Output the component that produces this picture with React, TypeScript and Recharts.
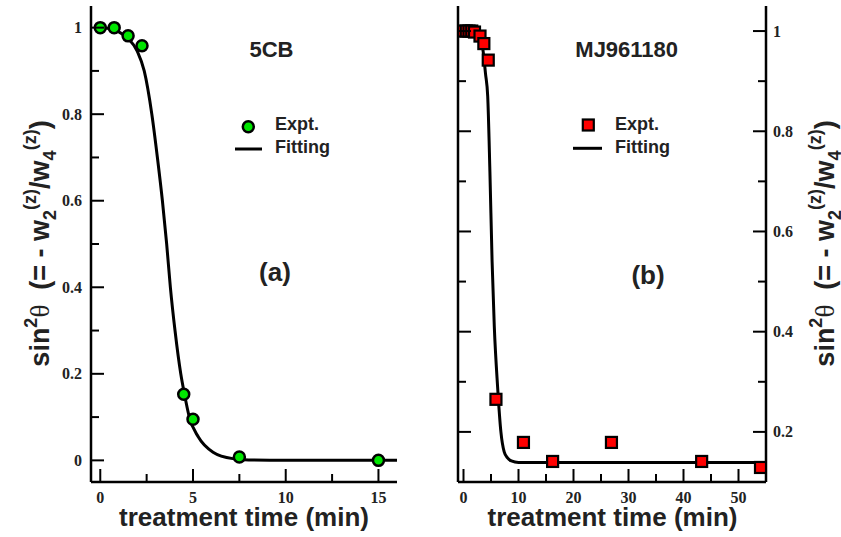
import React from 'react';
import { ComposedChart, Line, Scatter, XAxis, YAxis } from 'recharts';

// ---- Data: panel (a) 5CB ----
const exptA_t = [0, 0.75, 1.5, 2.25, 4.5, 5, 7.5, 15];
const exptA_v = [1.0, 1.0, 0.981, 0.958, 0.153, 0.095, 0.008, 0.0];
const fitA_t = [0, 0.5, 1, 1.5, 2, 2.37, 2.78, 3.08, 3.35, 3.58, 3.78, 4.03, 4.34, 4.53, 4.8, 5.29, 6.08, 7.15, 8, 10, 16];
const fitA_v = [1.0, 0.998, 0.99, 0.975, 0.945, 0.9, 0.8, 0.7, 0.6, 0.5, 0.4, 0.3, 0.2, 0.155, 0.1, 0.054, 0.019, 0.004, 0.001, 0, 0];

// ---- Data: panel (b) MJ961180 ----
const exptB_t = [0, 0.5, 1, 1.5, 2, 3, 3.7, 4.5, 5.9, 10.9, 16.2, 26.9, 43.3, 54];
const exptB_v = [1.0, 1.0, 1.0, 1.0, 0.998, 0.99, 0.975, 0.942, 0.265, 0.179, 0.141, 0.179, 0.141, 0.129];
const fitB_t = [0, 1, 2, 3, 3.5, 4, 4.4, 4.8, 5.2, 5.6, 6.2, 6.8, 7.4, 8, 8.7, 10, 20, 55];
const fitB_v = [1.0, 1.0, 0.997, 0.985, 0.965, 0.915, 0.87, 0.72, 0.54, 0.41, 0.29, 0.2, 0.16, 0.148, 0.142, 0.139, 0.139, 0.139];

// ---- Ticks ----
const xTicksA = [0, 2.5, 5, 7.5, 10, 12.5, 15];
const xMajorsA = [0, 5, 10, 15];
const yTicksA = [0, 0.1, 0.2, 0.3, 0.4, 0.5, 0.6, 0.7, 0.8, 0.9, 1];
const yMajorsA = [0, 0.2, 0.4, 0.6, 0.8, 1];
const xTicksB = [0, 5, 10, 15, 20, 25, 30, 35, 40, 45, 50];
const xMajorsB = [0, 10, 20, 30, 40, 50];
const yTicksB = [0.2, 0.3, 0.4, 0.5, 0.6, 0.7, 0.8, 0.9, 1];
const yMajorsB = [0.2, 0.4, 0.6, 0.8, 1];

const rows = (t: number[], v: number[]) => t.map((x, i) => ({ x, y: v[i] }));
const exptA = rows(exptA_t, exptA_v);
const fitA = rows(fitA_t, fitA_v);
const exptB = rows(exptB_t, exptB_v);
const fitB = rows(fitB_t, fitB_v);

const SERIF = '"Liberation Serif", "Times New Roman", serif';
const SANS = '"Liberation Sans", Arial, Helvetica, sans-serif';
const INK = '#222';

type Side = 'bottom' | 'top' | 'left' | 'right';
const makeTick = (side: Side, majors: number[], showLabel: boolean) => (p: any) => {
  const { x, y, payload } = p;
  const v = payload.value as number;
  const major = majors.some((m) => Math.abs(m - v) < 1e-9);
  const len = major ? 13 : 8;
  const ls = { stroke: '#000', strokeWidth: 2 };
  let line: React.ReactNode = null;
  let label: React.ReactNode = null;
  const txt = String(Math.round(v * 10) / 10);
  const tp = { fontFamily: SERIF, fontWeight: 700, fontSize: 16, fill: INK };
  if (side === 'bottom') {
    line = <line x1={x} y1={y} x2={x} y2={y - len} {...ls} />;
    if (showLabel && major) label = <text x={x} y={y + 21} textAnchor="middle" {...tp}>{txt}</text>;
  } else if (side === 'top') {
    line = <line x1={x} y1={y} x2={x} y2={y + len} {...ls} />;
  } else if (side === 'left') {
    line = <line x1={x} y1={y} x2={x + len} y2={y} {...ls} />;
    if (showLabel && major) label = <text x={x - 9} y={y + 5.5} textAnchor="end" {...tp}>{txt}</text>;
  } else {
    line = <line x1={x} y1={y} x2={x - len} y2={y} {...ls} />;
    if (showLabel && major) label = <text x={x + 7} y={y + 5.5} textAnchor="start" {...tp}>{txt}</text>;
  }
  return <g>{line}{label}</g>;
};

const axisLine = { stroke: '#000', strokeWidth: 2.5 };

const circleShape = (p: any) => (
  <circle cx={p.cx} cy={p.cy} r={5.5} fill="#00e600" stroke="#000" strokeWidth={2.5} />
);
const squareShape = (p: any) => (
  <rect x={p.cx - 5.5} y={p.cy - 5.5} width={11} height={11} fill="#ff0000" stroke="#000" strokeWidth={2.2} />
);

function YLabel({ cx, cy }: { cx: number; cy: number }) {
  return (
    <text
      transform={`rotate(-90 ${cx} ${cy})`}
      x={cx}
      y={cy}
      textAnchor="middle"
      fontSize={27}
      fontWeight={700}
      fontFamily={SANS}
      fill={INK}
      style={{ whiteSpace: 'pre' }}
    >
      sin<tspan fontSize={18} dy={-12}>2</tspan>
      <tspan fontFamily={SERIF} fontWeight={400} dy={12}>θ</tspan>
      <tspan>{'  (= - w'}</tspan>
      <tspan fontSize={18} dy={7}>2</tspan>
      <tspan fontSize={18} dy={-20}>(z)</tspan>
      <tspan dy={13}>/w</tspan>
      <tspan fontSize={18} dy={7}>4</tspan>
      <tspan fontSize={18} dy={-20}>(z)</tspan>
      <tspan dy={13}>)</tspan>
    </text>
  );
}

export default function App() {
  return (
    <div style={{ position: 'absolute', left: 0, top: 0, width: 841, height: 537, background: '#fff' }}>
      <div style={{ position: 'absolute', left: 0, top: 0 }}>
        <ComposedChart width={420} height={537} margin={{ top: 6, right: 23, left: 0, bottom: 0 }}>
          <XAxis
            xAxisId="b" type="number" dataKey="x" domain={[-0.5, 16]} ticks={xTicksA} interval={0}
            height={55} tickSize={0} tickMargin={0} tickLine={false} axisLine={axisLine}
            tick={makeTick('bottom', xMajorsA, true)} allowDataOverflow
          />
          <XAxis
            xAxisId="t" orientation="top" type="number" dataKey="x" domain={[-0.5, 16]} ticks={xTicksA} interval={0}
            height={0} tickSize={0} tickMargin={0} tickLine={false} axisLine={axisLine}
            tick={makeTick('top', xMajorsA, false)} allowDataOverflow
          />
          <YAxis
            yAxisId="l" type="number" dataKey="y" domain={[-0.05, 1.05]} ticks={yTicksA} interval={0}
            width={91} tickSize={0} tickMargin={0} tickLine={false} axisLine={axisLine}
            tick={makeTick('left', yMajorsA, true)} allowDataOverflow
          />
          <YAxis
            yAxisId="r" orientation="right" type="number" dataKey="y" domain={[-0.05, 1.05]} ticks={yTicksA} interval={0}
            width={0} tickSize={0} tickMargin={0} tickLine={false} axisLine={axisLine}
            tick={makeTick('right', yMajorsA, false)} allowDataOverflow
          />
          <Line xAxisId="b" yAxisId="l" data={fitA} dataKey="y" type="monotone" stroke="#000" strokeWidth={3}
            dot={false} isAnimationActive={false} />
          <Scatter xAxisId="b" yAxisId="l" data={exptA} dataKey="y" shape={circleShape} isAnimationActive={false} />
        </ComposedChart>
      </div>
      <div style={{ position: 'absolute', left: 420, top: 0 }}>
        <ComposedChart width={421} height={537} margin={{ top: 6, right: 0, left: 0, bottom: 0 }}>
          <XAxis
            xAxisId="b" type="number" dataKey="x" domain={[-1, 55]} ticks={xTicksB} interval={0}
            height={55} tickSize={0} tickMargin={0} tickLine={false} axisLine={axisLine}
            tick={makeTick('bottom', xMajorsB, true)} allowDataOverflow
          />
          <XAxis
            xAxisId="t" orientation="top" type="number" dataKey="x" domain={[-1, 55]} ticks={xTicksB} interval={0}
            height={0} tickSize={0} tickMargin={0} tickLine={false} axisLine={axisLine}
            tick={makeTick('top', xMajorsB, false)} allowDataOverflow
          />
          <YAxis
            yAxisId="l" type="number" dataKey="y" domain={[0.1, 1.05]} ticks={yTicksB} interval={0}
            width={38} tickSize={0} tickMargin={0} tickLine={false} axisLine={axisLine}
            tick={makeTick('left', yMajorsB, false)} allowDataOverflow
          />
          <YAxis
            yAxisId="r" orientation="right" type="number" dataKey="y" domain={[0.1, 1.05]} ticks={yTicksB} interval={0}
            width={75} tickSize={0} tickMargin={0} tickLine={false} axisLine={axisLine}
            tick={makeTick('right', yMajorsB, true)} allowDataOverflow
          />
          <Line xAxisId="b" yAxisId="l" data={fitB} dataKey="y" type="monotone" stroke="#000" strokeWidth={3}
            dot={false} isAnimationActive={false} />
          <Scatter xAxisId="b" yAxisId="l" data={exptB} dataKey="y" shape={squareShape} isAnimationActive={false} />
        </ComposedChart>
      </div>
      <svg width={841} height={537} style={{ position: 'absolute', left: 0, top: 0, pointerEvents: 'none' }}>
        <g fontFamily={SANS} fontWeight={700} fill={INK}>
          <text x={271.5} y={57} fontSize={22} textAnchor="middle">5CB</text>
          <text x={626.7} y={57} fontSize={22} textAnchor="middle">MJ961180</text>
          <text x={275} y={281} fontSize={26} textAnchor="middle">(a)</text>
          <text x={648} y={284} fontSize={26} textAnchor="middle">(b)</text>
          <text x={275} y={130} fontSize={18}>Expt.</text>
          <text x={275} y={153} fontSize={18}>Fitting</text>
          <text x={615} y={130} fontSize={18}>Expt.</text>
          <text x={615} y={153} fontSize={18}>Fitting</text>
          <text x={244} y={526} fontSize={26} textAnchor="middle">treatment time (min)</text>
          <text x={612.5} y={526} fontSize={26} textAnchor="middle">treatment time (min)</text>
        </g>
        <circle cx={248.3} cy={126.7} r={5.5} fill="#00e600" stroke="#000" strokeWidth={2.5} />
        <line x1={235} y1={149} x2={262} y2={149} stroke="#000" strokeWidth={3} />
        <rect x={582.8} y={119.5} width={11} height={11} fill="#ff0000" stroke="#000" strokeWidth={2.2} />
        <line x1={573} y1={148.3} x2={602} y2={148.3} stroke="#000" strokeWidth={3} />
        <YLabel cx={49} cy={243.5} />
        <YLabel cx={834} cy={243.5} />
      </svg>
    </div>
  );
}
